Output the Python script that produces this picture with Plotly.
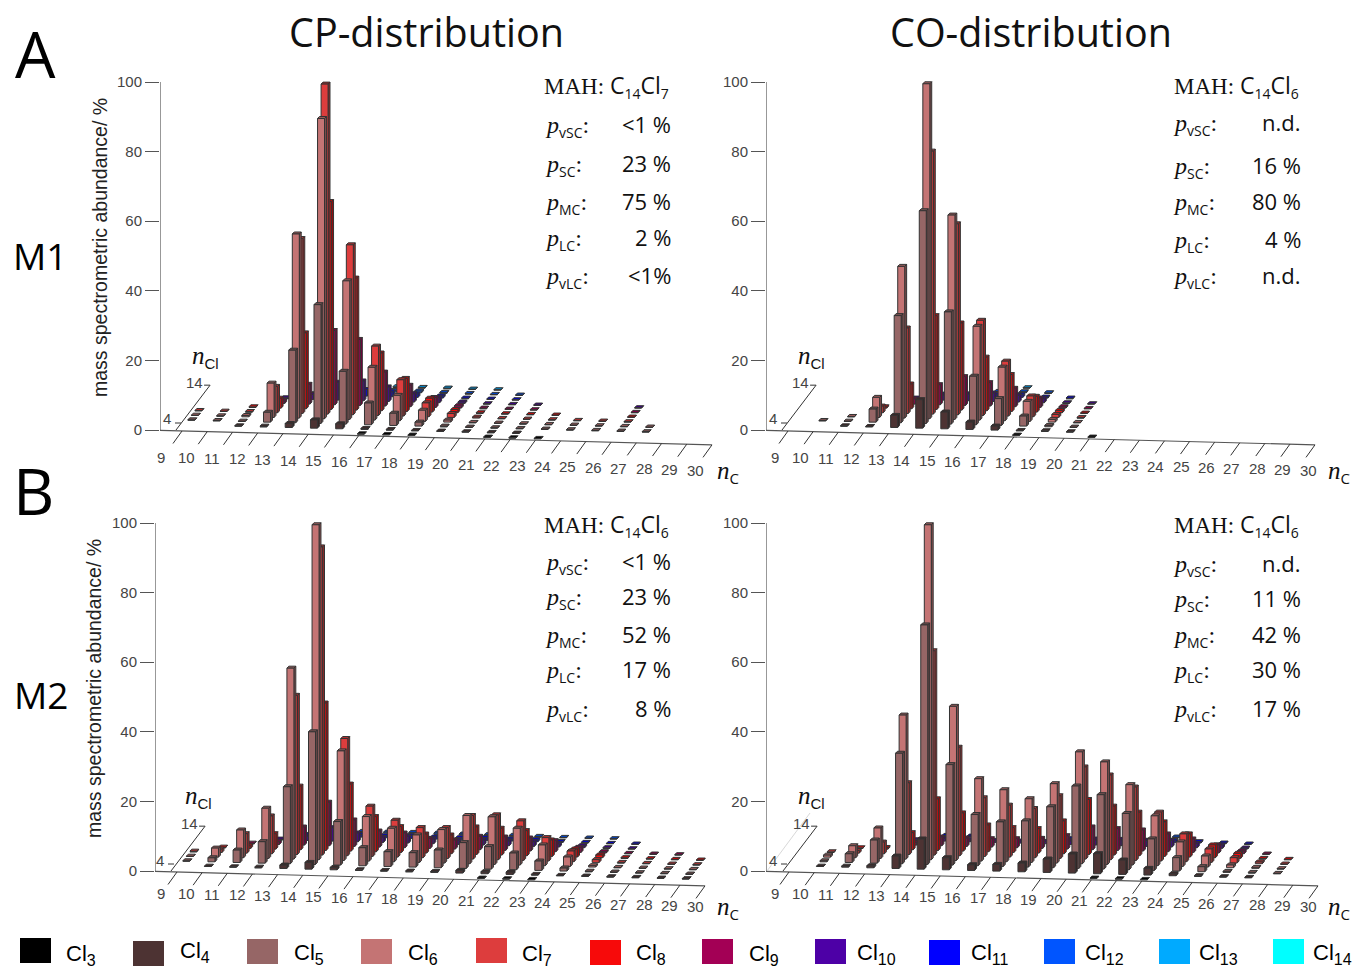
import plotly.graph_objects as go

N = None
W, H = 1352, 969

CL = [3, 4, 5, 6, 7, 8, 9, 10, 11, 12, 13, 14]
CL_COLORS = ["#000000", "#4d3333", "#966666", "#c47474", "#dd3d3d", "#f70a0a",
             "#a30055", "#4d00a6", "#0000ff", "#0055ff", "#00aaff", "#00ffff"]
NC_LABELS = list(range(9, 31))
Z_TICKS = [0, 20, 40, 60, 80, 100]

# each row: nC, then abundance for Cl3 ... Cl14 (None = no bar)
CP_M1 = [
    (9,  [N, N, .1, .1, .1, N, N, N, N, N, N, N]),
    (10, [N, N, .1, .1, .1, N, N, N, N, N, N, N]),
    (11, [N, .1, .1, .4, .2, .2, N, N, N, N, N, N]),
    (12, [N, .2, 3, 10.4, 8, 3, .8, .3, N, N, N, N]),
    (13, [N, 1.2, 22, 55.8, 53, 23, 6, 1.5, .3, N, N, N]),
    (14, [N, 2.5, 36, 91, 100, 63, 22.5, 5.4, 2, 1, .3, N]),
    (15, [N, 1.5, 16, 42, 51.5, 40, 20, 6, 2, .5, N, N]),
    (16, [.1, .3, 6.6, 16, 21, 17.5, 10.3, 4.4, 1.5, .5, .2, N]),
    (17, [.1, .2, 3.7, 7.7, 11, 10, 6.5, 2.5, 1, .5, .2, N]),
    (18, [.1, .1, 1.2, 3.4, 4.2, 4.2, 3, 1.5, .6, .3, .2, N]),
    (19, [N, .1, .2, .6, 1.2, 1, .7, .4, .2, .2, .1, N]),
    (20, [N, .1, .1, .1, .3, .2, .2, .1, .1, .1, .1, N]),
    (21, [.1, .1, .1, .1, .1, .1, .1, .1, .1, .1, N, N]),
    (22, [.1, .1, .1, .1, .1, .1, .1, .1, N, N, N, N]),
    (23, [.1, N, .1, .1, .1, .1, N, N, N, N, N, N]),
    (24, [N, N, .1, .1, .1, N, N, N, N, N, N, N]),
    (25, [N, N, .1, .1, .1, N, N, N, N, N, N, N]),
    (26, [N, N, .1, .1, .1, .1, .1, .1, N, N, N, N]),
    (27, [N, N, .1, .1, N, N, N, N, N, N, N, N]),
]
CO_M1 = [
    (10, [N, N, .1, N, N, N, N, N, N, N, N, N]),
    (11, [N, .1, .1, .1, N, N, N, N, N, N, N, N]),
    (12, [N, .1, 3.9, 6, 2, .4, N, N, N, N, N, N]),
    (13, [N, 3.6, 32, 45.3, 25.5, 7.4, 1.5, .4, N, N, N, N]),
    (14, [N, 8.5, 63.5, 100, 78.5, 28, 6, 1.5, .4, N, N, N]),
    (15, [N, 5, 33.5, 61, 57, 26, 8.6, 2, .6, N, N, N]),
    (16, [N, 2.2, 14.5, 28, 28.4, 16, 7, 2.5, .6, .2, N, N]),
    (17, [N, 1.2, 8, 16, 16.4, 11, 5.5, 2, .8, .3, .1, N]),
    (18, [.1, .1, 3, 6, 6.2, 4.7, 2.8, 1.2, .3, .2, N, N]),
    (19, [N, .2, .4, .8, .9, .7, .4, .2, .2, N, N, N]),
    (20, [N, .1, .1, .1, .2, .1, .1, .1, N, N, N, N]),
    (21, [.1, N, N, N, N, N, N, N, N, N, N, N]),
]
CP_M2 = [
    (9,  [N, N, .1, .1, .2, N, N, N, N, N, N, N]),
    (10, [N, .1, 1.2, 2.7, 1, .2, N, N, N, N, N, N]),
    (11, [N, .1, 3.7, 8.3, 5.8, .8, .2, N, N, N, N, N]),
    (12, [N, .2, 6.4, 15, 11.3, 4.6, .8, .2, N, N, N, N]),
    (13, [N, 1, 23, 57, 47.5, 19, 5.4, 1.3, .4, N, N, N]),
    (14, [N, 2, 39.6, 100, 92, 44, 13, 4, 1, .3, N, N]),
    (15, [N, .7, 13, 32.7, 35, 20, 7.9, 2.6, .8, .3, N, N]),
    (16, [N, .2, 5.4, 13.3, 15, 10.5, 4.8, 1.5, .6, .3, N, N]),
    (17, [N, .2, 4.4, 10, 11, 7.7, 4.4, 2, .8, .4, N, N]),
    (18, [N, .2, 4.3, 8.2, 9, 5.7, 3, 1.4, .6, .4, N, N]),
    (19, [N, .3, 5.3, 10, 9.2, 5.6, 2.7, 1.2, .6, .3, N, N]),
    (20, [N, .8, 7.7, 14.4, 13, 8.2, 4, 1.5, .8, .3, N, N]),
    (21, [.1, .6, 6.7, 14.2, 13.4, 8, 4, 1.4, .6, .3, N, N]),
    (22, [.1, .7, 5, 11, 11.8, 7.5, 3.9, 1.4, .6, .2, N, N]),
    (23, [.1, .2, 2.8, 6.2, 7, 4.9, 3.3, .9, .3, .1, N, N]),
    (24, [N, .1, .9, 2.8, 3.2, 2.4, 1.5, .6, .2, .1, N, N]),
    (25, [N, .1, .15, .4, .8, .8, .4, .2, .1, .1, N, N]),
    (26, [N, .1, .1, .1, .2, .2, .1, .1, .1, N, N, N]),
    (27, [N, .1, .1, .1, .1, .1, .1, N, N, N, N, N]),
    (28, [N, .1, .1, .1, .1, .1, .1, N, N, N, N, N]),
    (29, [N, .1, .1, .1, .1, .1, N, N, N, N, N, N]),
]
CO_M2 = [
    (10, [N, .1, .3, .6, .2, N, N, N, N, N, N, N]),
    (11, [N, .3, 2.6, 3.6, .8, .2, N, N, N, N, N, N]),
    (12, [N, .6, 6.9, 9.1, 3.5, .5, N, N, N, N, N, N]),
    (13, [N, 3.7, 33, 43, 21.4, 5.1, .8, .2, N, N, N, N]),
    (14, [N, 9, 71.5, 100, 61, 15.4, 2.6, .8, .3, N, N, N]),
    (15, [N, 3.6, 30, 46, 32.4, 11.4, 2.5, .6, .3, N, N, N]),
    (16, [N, 1.7, 15.3, 24.6, 17.5, 8, 2.5, .6, N, N, N, N]),
    (17, [N, 2, 13.3, 21.5, 15.5, 7.4, 2.7, .6, N, N, N, N]),
    (18, [N, 2.6, 13.8, 19, 14.7, 7.3, 3, .7, N, N, N, N]),
    (19, [N, 4, 18.2, 23.7, 18.7, 9.8, 4, 1, .3, N, N, N]),
    (20, [N, 5.7, 24.6, 33.4, 27.5, 16.4, 6.8, 1.5, .4, N, N, N]),
    (21, [.1, 6, 22.2, 30.6, 25.3, 14.6, 6.5, 1.8, .5, N, N, N]),
    (22, [.1, 4.3, 16.8, 24, 21.9, 13, 6.3, 1.8, .4, N, N, N]),
    (23, [.1, 2, 9.4, 14.9, 14.6, 10.3, 5.3, 2, .6, .2, N, N]),
    (24, [N, .6, 4, 7.3, 8.3, 6.9, 4, 1.2, .4, N, N, N]),
    (25, [N, .2, 1.5, 3.3, 4, 3.8, 2.4, 1, .2, N, N, N]),
    (26, [N, .1, .3, .8, 1.6, 1.5, .8, .3, .1, N, N, N]),
    (27, [N, .1, .2, .3, .5, .2, .1, N, N, N, N, N]),
    (28, [N, N, .1, .1, .1, .1, N, N, N, N, N, N]),
]

P_LABELS = ["vSC", "SC", "MC", "LC", "vLC"]
CP_M1_SHARES = ["&lt;1 %", "23 %", "75 %", "2 %", "&lt;1%"]
CO_M1_SHARES = ["n.d.", "16 %", "80 %", "4 %", "n.d."]
CP_M2_SHARES = ["&lt;1 %", "23 %", "52 %", "17 %", "8 %"]
CO_M2_SHARES = ["n.d.", "11 %", "42 %", "30 %", "17 %"]

SANS = "Open Sans"
ARIAL = "Liberation Sans"
SERIF = "Liberation Serif"
TICK_COL = "#444444"
PX_PER_PCT = 3.48
DEPTH_X, DEPTH_Y = 3.55, 4.67     # screen step per Cl
SLOPE = 0.66                      # screen drop per nC
BAR_W, TOP_X, TOP_Y = 7.0, 1.9, 2.0

PANELS = [
    dict(rows=CP_M1, zx=160, zero=430, t9=182, t30=712, k=3.30, lab9=(161, 457), lab30=(695, 470),
         mah=("7", 542, 86), lab_x=543, val_x=673, val_y=[124, 163, 201, 237, 275], shares=CP_M1_SHARES,
         ncl=(205, 357), nc=(727, 472), four=(169, 419), fourt=(175, 423)),
    dict(rows=CO_M1, zx=766, zero=430, t9=788, t30=1315, k=3.35, lab9=(775, 457), lab30=(1308, 470),
         mah=("6", 1172, 86), lab_x=1171, val_x=1303, val_y=[122, 165, 201, 239, 275], shares=CO_M1_SHARES,
         ncl=(811, 357), nc=(1338, 472), four=(775, 419), fourt=(781, 423)),
    dict(rows=CP_M2, zx=155, zero=871, t9=177, t30=705, k=3.35, lab9=(161, 893), lab30=(695, 906),
         mah=("6", 542, 525), lab_x=543, val_x=673, val_y=[561, 596, 634, 669, 708], shares=CP_M2_SHARES,
         ncl=(198, 797), nc=(727, 908), four=(162, 860), fourt=(168, 864)),
    dict(rows=CO_M2, zx=766, zero=871, t9=789, t30=1318, k=3.35, lab9=(775, 893), lab30=(1308, 906),
         mah=("6", 1172, 525), lab_x=1171, val_x=1303, val_y=[563, 598, 634, 669, 708], shares=CO_M2_SHARES,
         ncl=(811, 797), nc=(1338, 908), four=(775, 860), fourt=(781, 864)),
]


def shade(hex_col, f):
    r, g, b = (int(hex_col[i:i + 2], 16) for i in (1, 3, 5))
    return "#%02x%02x%02x" % (int(r * f), int(g * f), int(b * f))


fig = go.Figure()
layout = dict(width=W, height=H, autosize=False, margin=dict(l=0, r=0, t=0, b=0),
              paper_bgcolor="white", plot_bgcolor="rgba(0,0,0,0)", showlegend=False)
annotations, shapes = [], []


def note(x, y, text, size, family=SANS, color="#111111", anchor="left", angle=0):
    annotations.append(dict(xref="paper", yref="paper", x=x / W, y=1 - y / H, text=text, showarrow=False,
                            xanchor=anchor, yanchor="middle", textangle=angle,
                            font=dict(size=size, family=family, color=color)))


def sub_text(s, size, family=SANS):
    return '<sub><span style="font-family:%s;font-size:%dpx;font-style:normal">%s</span></sub>' % (family, size, s)


for idx, p in enumerate(PANELS):
    suffix = "" if idx == 0 else str(idx + 1)
    xname, yname = "x" + suffix, "y" + suffix
    a = (p["t30"] - p["t9"]) / 21.0

    def to_data(px, py, p=p, a=a):
        return 9 + (px - p["t9"]) / a, (p["zero"] - py) / PX_PER_PCT

    def bar_xy(nC, Cl, z, ox=0.0, oy=0.0, p=p, a=a):
        px = p["t9"] + a * (nC - 9) + 3 + DEPTH_X * (Cl - 3) + ox
        py = p["zero"] - 0.5 + SLOPE * (nC - 9) - DEPTH_Y * (Cl - 3) - p["k"] * z + oy
        return to_data(px, py)

    # axes
    x_left, x_right = p["zx"], p["t30"] + 25
    y_top, y_bot = p["zero"] - 360, p["zero"] + 42
    layout["xaxis" + suffix] = dict(domain=[x_left / W, x_right / W],
                                    range=[to_data(x_left, 0)[0], to_data(x_right, 0)[0]],
                                    visible=False, anchor=yname, fixedrange=True)
    layout["yaxis" + suffix] = dict(domain=[1 - y_bot / H, 1 - y_top / H],
                                    range=[to_data(0, y_bot)[1], to_data(0, y_top)[1]],
                                    anchor=xname, tickmode="array", tickvals=Z_TICKS,
                                    ticks="outside", ticklen=14, tickwidth=1, tickcolor="#555555",
                                    tickfont=dict(family=ARIAL, size=15, color=TICK_COL),
                                    showgrid=False, zeroline=False, showline=False, fixedrange=True)

    def add_line(xs, ys, color="#333333", width=1.0):
        fig.add_trace(go.Scatter(x=xs, y=ys, mode="lines", line=dict(color=color, width=width),
                                 hoverinfo="skip", xaxis=xname, yaxis=yname))

    # vertical abundance axis
    add_line([to_data(p["zx"], 0)[0]] * 2, [0, 100])
    # nC baseline
    b0 = to_data(p["zx"], p["zero"] + 0.4)
    b1 = to_data(p["t30"], p["zero"] + 1 + SLOPE * 21)
    add_line([b0[0], b1[0]], [b0[1], b1[1]], "#555555", 1.2)
    # nC ticks
    tx, ty = [], []
    for n in NC_LABELS:
        top = (p["t9"] + a * (n - 9), p["zero"] + 1 + SLOPE * (n - 9))
        q0, q1 = to_data(*top), to_data(top[0] - 9, top[1] + 12.5)
        tx += [q0[0], q1[0], N]
        ty += [q0[1], q1[1], N]
    add_line(tx, ty)
    # nCl axis
    c0 = (p["t9"] - 6, p["zero"])
    c1 = (c0[0] + DEPTH_X * 9.6, c0[1] - DEPTH_Y * 9.6)
    q0, q1 = to_data(*c0), to_data(*c1)
    q2 = to_data(c1[0] - 6, c1[1])
    q3, q4 = to_data(p["fourt"][0], p["fourt"][1]), to_data(p["fourt"][0] + 6, p["fourt"][1])
    add_line([q0[0], q1[0], q2[0], N, q3[0], q4[0]], [q0[1], q1[1], q2[1], N, q3[1], q4[1]])
    if idx == 3:
        g0, g1 = to_data(767, 871), to_data(810, 813)
        add_line([g0[0], g1[0]], [g0[1], g1[1]], "#d8d8d8", 1)

    # bars: back to front, one group per Cl
    for ci in range(len(CL) - 1, -1, -1):
        faces = {"side": ([], []), "top": ([], []), "front": ([], [])}
        for nC, vals in p["rows"]:
            z = vals[ci]
            if z is None:
                continue
            cl = CL[ci]
            hw = BAR_W / 2
            polys = {
                "front": [(-hw, 0, 0), (hw, 0, 0), (hw, 0, 1), (-hw, 0, 1), (-hw, 0, 0)],
                "side": [(hw, 0, 0), (hw + TOP_X, -TOP_Y, 0), (hw + TOP_X, -TOP_Y, 1), (hw, 0, 1), (hw, 0, 0)],
                "top": [(-hw, 0, 1), (hw, 0, 1), (hw + TOP_X, -TOP_Y, 1), (-hw + TOP_X, -TOP_Y, 1), (-hw, 0, 1)],
            }
            for name, pts in polys.items():
                xs, ys = faces[name]
                for ox, oy, up in pts:
                    qx, qy = bar_xy(nC, cl, z * up, ox - 0.8, oy)
                    xs.append(qx)
                    ys.append(qy)
                xs.append(N)
                ys.append(N)
        factor = {"side": 0.7, "top": 0.8, "front": 1.0}
        for name in ("side", "top", "front"):
            xs, ys = faces[name]
            if xs:
                fig.add_trace(go.Scatter(x=xs, y=ys, mode="lines", fill="toself",
                                         fillcolor=shade(CL_COLORS[ci], factor[name]),
                                         line=dict(color="#333333", width=1.0),
                                         hoverinfo="skip", xaxis=xname, yaxis=yname))

    # nC tick labels, placed in the panel's own data coordinates
    lab_dx = (p["lab30"][0] - p["lab9"][0]) / 21.0
    lab_dy = (p["lab30"][1] - p["lab9"][1]) / 21.0
    for n in NC_LABELS:
        q = to_data(p["lab9"][0] + lab_dx * (n - 9), p["lab9"][1] + lab_dy * (n - 9))
        annotations.append(dict(xref=xname, yref=yname, x=q[0], y=q[1], text=str(n), showarrow=False,
                                xanchor="center", yanchor="middle",
                                font=dict(family=ARIAL, size=15, color=TICK_COL)))

    # nCl axis labels
    note(c1[0] - 5, c1[1] - 3, "14", 15, ARIAL, TICK_COL, "right")
    note(p["four"][0] + 4, p["four"][1], "4", 15, ARIAL, TICK_COL, "right")
    note(p["ncl"][0], p["ncl"][1], "<i>n</i>" + sub_text("Cl", 15, ARIAL), 25, SERIF, "#111111", "center")
    note(p["nc"][0] + 1, p["nc"][1], "<i>n</i>" + sub_text("C", 15, SANS), 25, SERIF, "#111111", "center")

    # MAH block
    digit, mx, my = p["mah"]
    note(mx, my, '<span style="font-family:%s">MAH:</span> C%sCl%s' % (SERIF, sub_text("14", 14), sub_text(digit, 14)),
         23, SANS)
    for lab, val, vy in zip(P_LABELS, p["shares"], p["val_y"]):
        note(p["lab_x"], vy + 3, "<i>p</i>" + sub_text(lab, 14) + ":", 24, SERIF)
        note(p["val_x"], vy, val, 22, SANS, "#111111", "right")

# panel titles and letters
note(427, 32, "CP-distribution", 39.5, SANS, "#111111", "center")
note(1031, 32, "CO-distribution", 39.5, SANS, "#111111", "center")
note(35, 53, "A", 64, SANS, "#000000", "center")
note(33, 490, "B", 64, SANS, "#000000", "center")
note(40, 256, "M1", 37, SANS, "#000000", "center")
note(41, 694, "M2", 37, SANS, "#000000", "center")
note(100, 248, "mass spectrometric abundance/ %", 19.5, ARIAL, "#222222", "center", -90)
note(94, 688, "mass spectrometric abundance/ %", 19.5, ARIAL, "#222222", "center", -90)

# colour key
KEY_X = [20, 133, 247, 361, 476, 590, 702, 815, 929, 1044, 1159, 1273]
KEY_Y = [938, 941, 939, 939, 938, 940, 939, 939, 940, 939, 939, 939]
KEY_TX = [64, 178, 292, 406, 520, 634, 747, 855, 969, 1083, 1197, 1311]
KEY_TY = [955, 952, 954, 954, 955, 954, 955, 954, 954, 954, 954, 954]
for cl, col, kx, ky, tx_, ty_ in zip(CL, CL_COLORS, KEY_X, KEY_Y, KEY_TX, KEY_TY):
    shapes.append(dict(type="rect", xref="paper", yref="paper", x0=kx / W, x1=(kx + 31) / W,
                       y0=1 - (ky + 25) / H, y1=1 - ky / H, fillcolor=col, line=dict(width=0), layer="above"))
    note(tx_, ty_, "Cl" + sub_text(str(cl), 16, ARIAL), 22, ARIAL, "#000000")

layout["annotations"] = annotations
layout["shapes"] = shapes
fig.update_layout(**layout)
fig.write_html("out.html", post_script="document.body.style.margin='0';",
               config={"displayModeBar": False, "responsive": False})
